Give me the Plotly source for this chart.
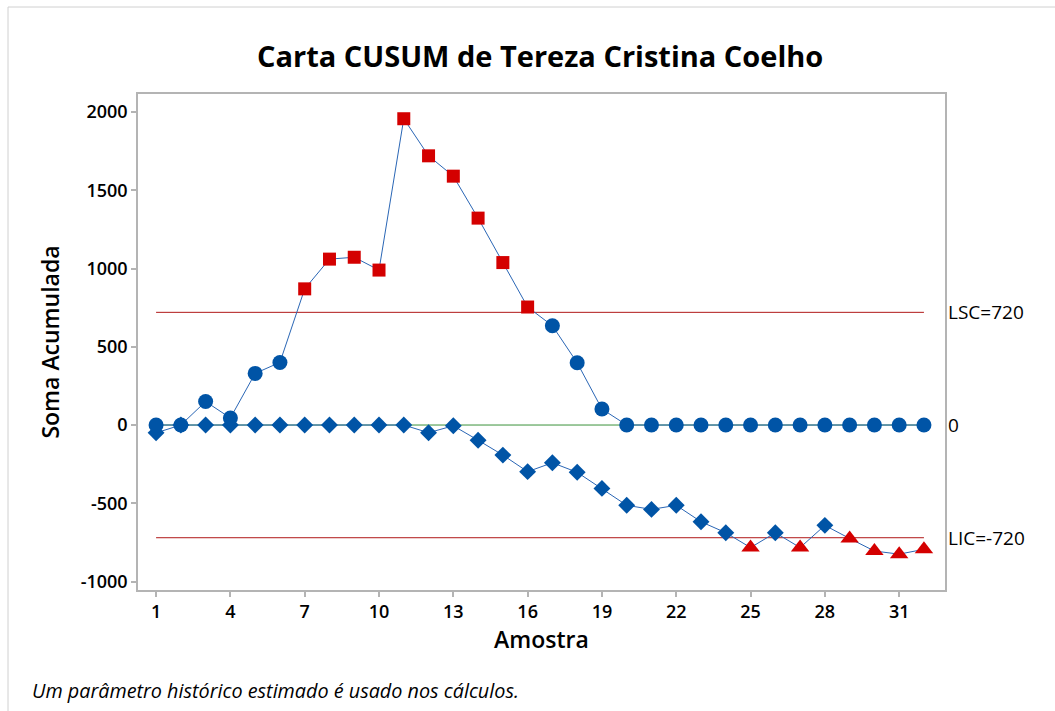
import plotly.graph_objects as go

# Sample numbers and the two cumulative sums (upper and lower)
amostra = list(range(1, 33))
cusum_sup = [0, 0, 150, 45, 330, 400, 870, 1060, 1072, 990,
             1957, 1720, 1590, 1322, 1038, 754, 634, 398, 102, 0,
             0, 0, 0, 0, 0, 0, 0, 0, 0, 0, 0, 0]
cusum_inf = [-50, 0, 0, 0, 0, 0, 0, 0, 0, 0,
             0, -49, -5, -97, -192, -298, -241, -302, -405, -513,
             -539, -513, -618, -688, -783, -688, -783, -641, -725, -805,
             -825, -794]
lsc = 720
lic = -720
centro = 0
x_ticks = [1, 4, 7, 10, 13, 16, 19, 22, 25, 28, 31]
y_ticks = [-1000, -500, 0, 500, 1000, 1500, 2000]

AZUL = "#0054A6"
LINHA = "#2A66B5"
VERMELHO = "#D40000"
LIMITE = "#B01818"
VERDE = "#3A913A"
FONTE = "Open Sans"

W, H = 1055, 711
ML, MR, MT, MB = 138, 110, 94, 121

sup_simb = ["square" if v > lsc else "circle" for v in cusum_sup]
sup_cor = [VERMELHO if v > lsc else AZUL for v in cusum_sup]
sup_tam = [13 if v > lsc else 15 for v in cusum_sup]
inf_simb = ["triangle-up" if v < lic else "diamond" for v in cusum_inf]
inf_cor = [VERMELHO if v < lic else AZUL for v in cusum_inf]
inf_tam = [16 if v < lic else 13 for v in cusum_inf]

fig = go.Figure()

# control limits and centre line
x0, x1 = amostra[0], amostra[-1]
fig.add_trace(go.Scatter(x=[x0, x1], y=[lsc, lsc], mode="lines",
                         line=dict(color=LIMITE, width=1), hoverinfo="skip"))
fig.add_trace(go.Scatter(x=[x0, x1], y=[lic, lic], mode="lines",
                         line=dict(color=LIMITE, width=1), hoverinfo="skip"))
fig.add_trace(go.Scatter(x=[x0, x1], y=[centro, centro], mode="lines",
                         line=dict(color=VERDE, width=1), hoverinfo="skip"))

fig.add_trace(go.Scatter(
    x=amostra, y=cusum_inf, mode="lines+markers", opacity=1,
    line=dict(color=LINHA, width=1),
    marker=dict(symbol=inf_simb, color=inf_cor, size=inf_tam, opacity=1,
                line=dict(width=0)),
))
fig.add_trace(go.Scatter(
    x=amostra, y=cusum_sup, mode="lines+markers", opacity=1,
    line=dict(color=LINHA, width=1),
    marker=dict(symbol=sup_simb, color=sup_cor, size=sup_tam, opacity=1,
                line=dict(width=0)),
))

eixo = dict(showgrid=False, zeroline=False, showline=True, mirror=True,
            linecolor="#B4B4B4", linewidth=1.5, ticks="outside", ticklen=5,
            tickcolor="#B4B4B4", tickwidth=1.5,
            tickfont=dict(family=FONTE, size=18, color="#000000", weight=600))

fig.update_layout(
    width=W, height=H,
    margin=dict(l=ML, r=MR, t=MT, b=MB),
    paper_bgcolor="white", plot_bgcolor="white",
    showlegend=False,
    title=dict(text="<b>Carta CUSUM de Tereza Cristina Coelho</b>",
               x=0.512, xanchor="center", y=1 - 57 / H, yanchor="middle",
               font=dict(family=FONTE, size=29, color="#000000")),
    xaxis=dict(eixo, range=[0.27, 32.85], tickvals=x_ticks,
               ticktext=[str(v) for v in x_ticks],
               title=dict(text="Amostra", standoff=9,
                          font=dict(family=FONTE, size=23, color="#000000", weight=600))),
    yaxis=dict(eixo, range=[-1054, 2115], tickvals=y_ticks,
               ticktext=[str(v) for v in y_ticks],
               title=dict(text="Soma Acumulada", standoff=15,
                          font=dict(family=FONTE, size=23, color="#000000", weight=600))),
)

# limit labels on the right side
for valor, texto in [(lsc, f"LSC={lsc}"), (centro, f"{centro}"), (lic, f"LIC={lic}")]:
    fig.add_annotation(x=1.0, xref="paper", y=valor, yref="y", xshift=1,
                       text=texto, showarrow=False, xanchor="left", yanchor="middle",
                       font=dict(family=FONTE, size=19, color="#000000"))

# footnote
pw, ph = W - ML - MR, H - MT - MB
fig.add_annotation(x=(30 - ML) / pw, xref="paper", y=-(690 - (H - MB)) / ph, yref="paper",
                   text="<i>Um parâmetro histórico estimado é usado nos cálculos.</i>",
                   showarrow=False, xanchor="left", yanchor="middle",
                   font=dict(family=FONTE, size=19.8, color="#000000"))

# thin outer frame around the page
fig.add_shape(type="rect", xref="paper", yref="paper",
              x0=(8 - ML) / pw, x1=(W + 5 - ML) / pw,
              y0=-(H + 5 - (H - MB)) / ph, y1=1 + (MT - 7) / ph,
              line=dict(color="#D0D0D0", width=1), layer="below")

fig.write_html("out.html")
